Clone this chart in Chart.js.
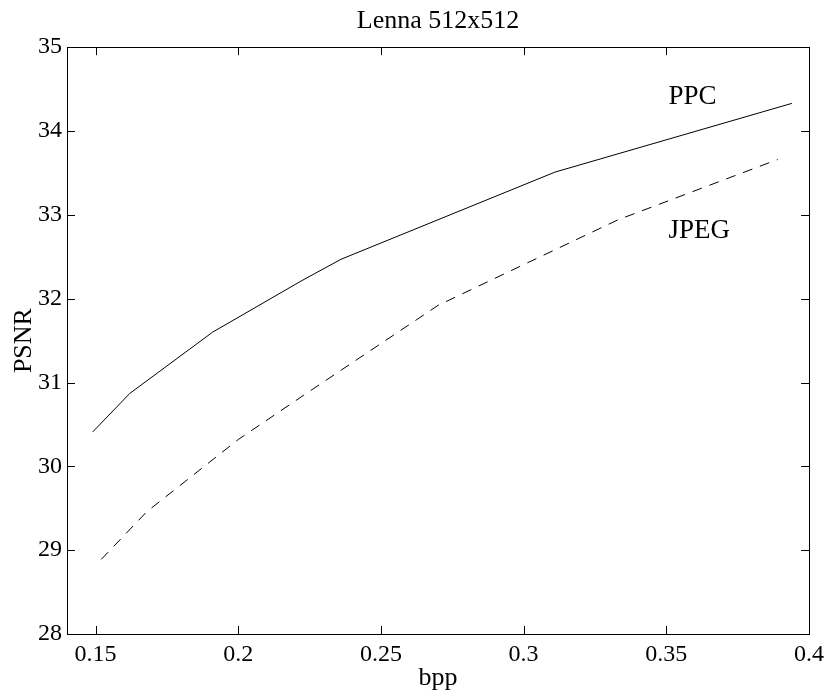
<!DOCTYPE html>
<html>
<head>
<meta charset="utf-8">
<script src="https://cdn.jsdelivr.net/npm/chart.js@4"></script>
<style>
  html, body { margin: 0; padding: 0; background: #fff; }
</style>
</head>
<body>
<canvas id="chart" width="830" height="698"></canvas>
<script>
// Lenna 512x512 rate / distortion data
const ppcBpp = [0.149, 0.162, 0.191, 0.222, 0.236, 0.311, 0.394];
const ppcPsnr = [30.41, 30.87, 31.60, 32.21, 32.47, 33.51, 34.33];

const jpegBpp = [0.152, 0.168, 0.200, 0.223, 0.270, 0.333, 0.389];
const jpegPsnr = [28.89, 29.46, 30.32, 30.85, 31.92, 32.94, 33.66];

const xTicks = [0.15, 0.2, 0.25, 0.3, 0.35, 0.4];
const yTicks = [28, 29, 30, 31, 32, 33, 34, 35];

// curve labels, in data units (left edge / baseline)
const seriesLabels = [
  { text: 'PPC', x: 0.3508, y: 34.32 },
  { text: 'JPEG', x: 0.3508, y: 32.72 },
];

const FONT = '"Liberation Serif", "Times New Roman", serif';

function toPoints(xs, ys) {
  return xs.map((x, i) => ({ x: x, y: ys[i] }));
}

// MATLAB style box with inward ticks on all four sides + text labels
const boxPlugin = {
  id: 'matlabBox',
  afterDraw(chart) {
    const ctx = chart.ctx;
    const a = chart.chartArea;
    const xs = chart.scales.x;
    const ys = chart.scales.y;
    const tl = 8;
    ctx.save();
    ctx.strokeStyle = '#000';
    ctx.lineWidth = 1;
    ctx.strokeRect(Math.round(a.left) + 0.5, Math.round(a.top) + 0.5,
      Math.round(a.right - a.left), Math.round(a.bottom - a.top));
    ctx.beginPath();
    xTicks.forEach((v) => {
      const px = Math.round(xs.getPixelForValue(v)) + 0.5;
      ctx.moveTo(px, a.bottom);
      ctx.lineTo(px, a.bottom - tl);
      ctx.moveTo(px, a.top);
      ctx.lineTo(px, a.top + tl);
    });
    yTicks.forEach((v) => {
      const py = Math.round(ys.getPixelForValue(v)) + 0.5;
      ctx.moveTo(a.left, py);
      ctx.lineTo(a.left + tl, py);
      ctx.moveTo(a.right, py);
      ctx.lineTo(a.right - tl, py);
    });
    ctx.stroke();

    ctx.fillStyle = '#000';
    ctx.font = '27px ' + FONT;
    ctx.textAlign = 'left';
    ctx.textBaseline = 'alphabetic';
    seriesLabels.forEach((l) => {
      ctx.fillText(l.text, xs.getPixelForValue(l.x), ys.getPixelForValue(l.y));
    });
    ctx.restore();
  },
};

Chart.defaults.font.family = FONT;
Chart.defaults.color = '#000';

new Chart(document.getElementById('chart'), {
  type: 'line',
  data: {
    datasets: [
      {
        label: 'PPC',
        data: toPoints(ppcBpp, ppcPsnr),
        borderColor: '#000',
        borderWidth: 1,
        pointRadius: 0,
        tension: 0,
        fill: false,
      },
      {
        label: 'JPEG',
        data: toPoints(jpegBpp, jpegPsnr),
        borderColor: '#000',
        borderWidth: 1,
        borderDash: [10, 8],
        pointRadius: 0,
        tension: 0,
        fill: false,
      },
    ],
  },
  options: {
    responsive: false,
    animation: false,
    layout: { padding: { left: 0, right: 18, top: 0, bottom: 0 } },
    plugins: {
      legend: { display: false },
      tooltip: { enabled: false },
      title: {
        display: true,
        fullSize: false,
        text: 'Lenna 512x512',
        font: { size: 26, weight: 'normal', family: FONT },
        padding: { top: 6, bottom: 10 },
      },
    },
    scales: {
      x: {
        type: 'linear',
        min: 0.14,
        max: 0.4,
        afterFit: (s) => { s.height = 64; },
        afterBuildTicks: (s) => { s.ticks = xTicks.map((v) => ({ value: v })); },
        grid: { display: false, drawTicks: false },
        border: { display: false },
        ticks: {
          padding: 6,
          maxRotation: 0,
          font: { size: 24, family: FONT },
          callback: (v) => String(+v.toFixed(2)),
        },
        title: {
          display: true,
          text: 'bpp',
          font: { size: 26, family: FONT },
          padding: { top: 0, bottom: 4 },
        },
      },
      y: {
        min: 28,
        max: 35,
        afterFit: (s) => { s.width = 67; },
        afterBuildTicks: (s) => { s.ticks = yTicks.map((v) => ({ value: v })); },
        grid: { display: false, drawTicks: false },
        border: { display: false },
        ticks: {
          padding: 5,
          font: { size: 24, family: FONT },
          callback: (v) => String(v),
        },
        title: {
          display: true,
          text: 'PSNR',
          font: { size: 26, family: FONT },
          padding: { top: 9, bottom: 0 },
        },
      },
    },
  },
  plugins: [boxPlugin],
});
</script>
</body>
</html>
